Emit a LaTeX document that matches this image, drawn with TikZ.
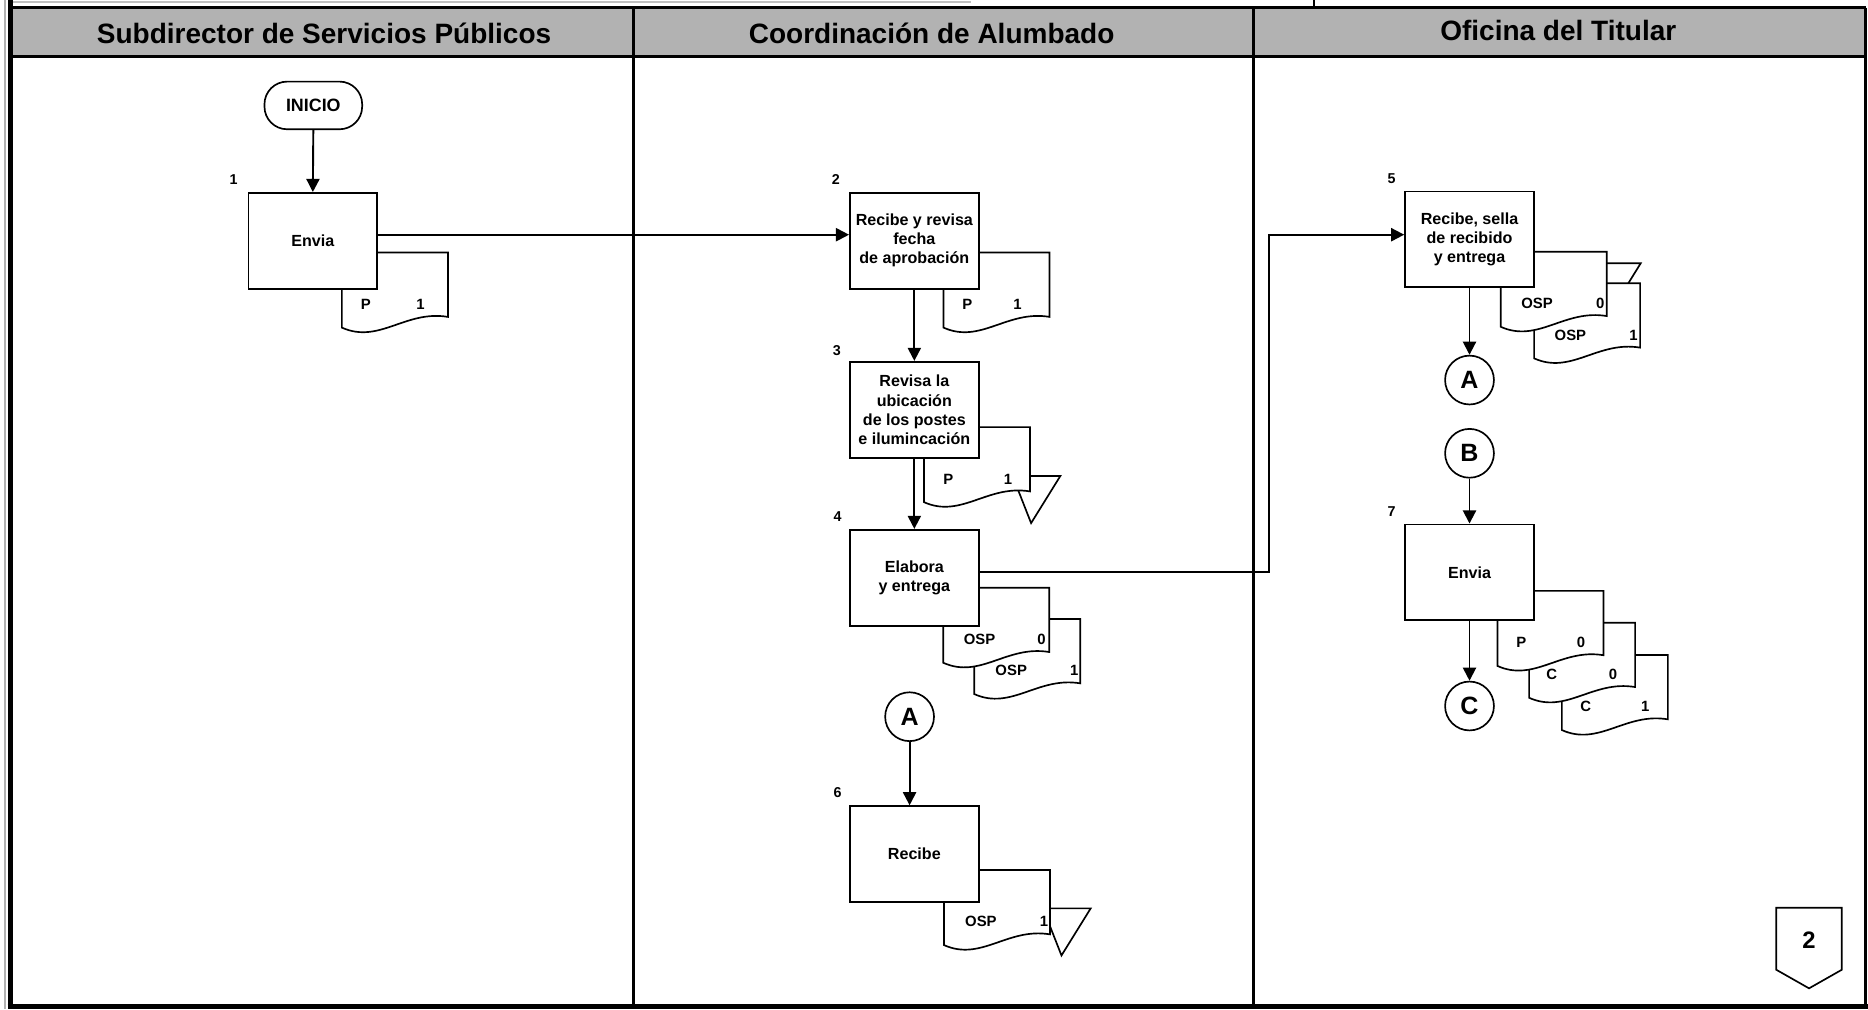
\documentclass[tikz,border=0pt]{standalone}
\usepackage{fontspec}
\setmainfont{Liberation Sans}
\usetikzlibrary{arrows.meta}

\newcommand\boxfont{\fontsize{13.5}{16}\selectfont\bfseries}
\newcommand\headfont{\fontsize{23.5}{26}\selectfont\bfseries}
\newcommand\docfont{\fontsize{12.5}{14}\selectfont\bfseries}
\newcommand\numfont{\fontsize{12}{13}\selectfont\bfseries}
\newcommand\connfont{\fontsize{21}{24}\selectfont\bfseries}

% document sheet: name, left x, top y, left text, its offset, right text, its offset
\newcommand{\docsheet}[7]{%
  \draw[docline] (#2,#3) -- ({#2+89},#3) -- ({#2+89},{#3+54})
    .. controls ({#2+53.4},{#3+48}) and ({#2+31.2},{#3+77}) .. (#2,{#3+63}) -- cycle;
  \node[doctext] (#1l) at ({#2+#5},{#3+43.5}) {#4};
  \node[doctext] (#1r) at ({#2+#7},{#3+43.5}) {#6};
}
% archive triangle: top-left x, top y
\newcommand{\archive}[2]{%
  \draw[docline] (#1,#2) -- ({#1+40},#2) -- ({#1+15.5},{#2+39.5}) -- cycle;
}

\begin{document}
\begin{tikzpicture}[x=1pt,y=-1pt,
  procbox/.style={draw, fill=white, line width=1.6pt, minimum width=108pt,
    minimum height=80.5pt, inner sep=1pt, align=center, font=\boxfont},
  termbox/.style={draw, fill=white, line width=1.4pt, rounded corners=19pt,
    minimum width=82pt, minimum height=40pt, inner sep=0pt, font=\fontsize{15}{17}\selectfont\bfseries},
  connector/.style={draw, fill=white, circle, line width=1.4pt, minimum size=41pt,
    inner sep=0pt, font=\connfont},
  docline/.style={draw, fill=white, line width=1.4pt, line join=miter},
  doctext/.style={inner sep=0pt, font=\docfont},
  stepnum/.style={inner sep=0pt, font=\numfont},
  headtext/.style={inner sep=0pt, font=\headfont},
  flow/.style={line width=1.6pt, -{Triangle[length=11pt,width=11pt]}},
  lanerule/.style={line width=2.6pt}]

\useasboundingbox (0,0) rectangle (1568,847);

% ---- swimlane frame ----
\fill[black!30] (10,7) rectangle (1566,47);
\draw[gray!50, line width=2pt] (10,1.5) -- (815,1.5);
\draw[line width=1.6pt] (1103,0) -- (1103,6);
\draw[line width=2.4pt] (10,6.5) -- (1566,6.5);
\draw[lanerule] (10,47.5) -- (1566,47.5);
\draw[gray!60, line width=1.5pt] (4,0) -- (4,847);
\draw[line width=4pt] (8.5,0) -- (8.5,847);
\draw[line width=4pt] (6.5,845) -- (1568,845);
\draw[lanerule] (531.5,6.5) -- (531.5,845);
\draw[lanerule] (1052.5,6.5) -- (1052.5,845);
\draw[line width=2pt] (1566,6.5) -- (1566,845);

\node[headtext] (h1) at (272,28) {Subdirector de Servicios Públicos};
\node[headtext] (h2) at (782,28) {Coordinación de Alumbado};
\node[headtext] (h3) at (1308,26) {Oficina del Titular};

% ---- helper rows ----
\coordinate (r197) at (0,197);
\coordinate (r480) at (0,480);

% ---- lane 1 ----
\node[termbox] (inicio) at (263,88.5) {INICIO};
\docsheet{d1}{287}{212}{P}{20}{1}{66}
\node[procbox] (b1) at (262.6,202.2) {Envia};
\node[stepnum] (n1) at (196,151) {1};

% ---- lane 2 ----
\docsheet{d2}{792}{212}{P}{20}{1}{62}
\node[procbox] (b2) at (767.5,202) {Recibe y revisa\\fecha\\de aprobación};
\node[stepnum] (n2) at (701.5,151) {2};

\archive{850}{399.6}
\docsheet{d3}{775.6}{358.5}{P}{20.5}{1}{70.5}
\node[procbox] (b3) at (767.5,344) {Revisa la\\ubicación\\de los postes\\e ilumincación};
\node[stepnum] (n3) at (702.5,294) {3};

\docsheet{d4b}{817.8}{519.6}{OSP}{31}{1}{84}
\docsheet{d4a}{791.7}{493.3}{OSP}{30.5}{0}{82.5}
\node[procbox] (b4) at (767.5,485) {Elabora\\y entrega};
\node[stepnum] (n4) at (703,434) {4};

\node[connector] (a2) at (763.5,601.6) {A};

\archive{875.5}{762.5}
\docsheet{d6}{792.4}{730.3}{OSP}{31}{1}{84}
\node[procbox] (b6) at (767.5,717) {Recibe};
\node[stepnum] (n6) at (703,665.5) {6};

% ---- lane 3 ----
\archive{1337.2}{221}
\docsheet{d5b}{1287.7}{237.8}{OSP}{30.5}{1}{83.5}
\docsheet{d5a}{1259.7}{211.3}{OSP}{30.5}{0}{83.5}
\node[procbox] (b5) at (1233.5,201) {Recibe, sella\\de recibido\\y entrega};
\node[stepnum] (n5) at (1168,149.6) {5};

\node[connector] (a3) at (1233.5,319) {A};
\node[connector] (b3c) at (1233.5,380.5) {B};

\docsheet{d7c}{1311}{549.8}{\fontsize{12.5}{14}\selectfont C}{20}{1}{70}
\docsheet{d7b}{1283.5}{522.7}{\fontsize{12.5}{14}\selectfont C}{19}{0}{70.5}
\docsheet{d7a}{1257}{496}{P}{20}{0}{70}
\node[procbox] (b7) at (1233.5,480.5) {Envia};
\node[stepnum] (n7) at (1168,429.5) {7};

\node[connector] (c3) at (1233.5,592.6) {C};

% ---- off-page connector ----
\draw[line width=1.4pt, line join=miter] (1491,762) -- (1546,762) -- (1546,814)
  -- (1518.5,829.6) -- (1491,814) -- cycle;
\node[inner sep=0pt, font=\fontsize{20}{22}\selectfont\bfseries] (pg) at (1518.5,789) {2};

% ---- flow connectors ----
\draw[flow] (inicio.south) -- (b1.north);
\draw[flow] (b1.east |- r197) -- (b2.west |- r197);
\draw[flow] (b2.south) -- (b3.north);
\draw[flow] (b3.south) -- (b4.north);
\coordinate (jog) at (1065,480);
\draw[flow] (b4.east |- r480) -- (jog) |- (b5.west |- r197);
\draw[flow] (a2.south) -- (a2.south |- b6.north);
\draw[flow] (b5.south) -- (a3.north);
\draw[flow] (b3c.south) -- (b7.north);
\draw[flow] (b7.south) -- (c3.north);
\end{tikzpicture}
\end{document}
